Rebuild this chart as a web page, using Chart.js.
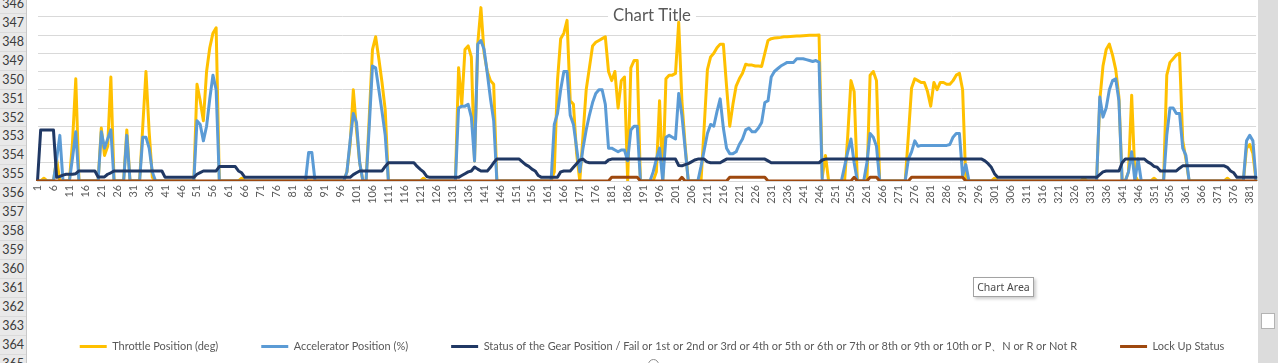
<!DOCTYPE html>
<html><head><meta charset="utf-8">
<script src="https://cdn.jsdelivr.net/npm/chart.js@4.4.1/dist/chart.umd.min.js"></script>
<style>
html,body{margin:0;padding:0;}
body{width:1278px;height:363px;overflow:hidden;position:relative;background:#fff;}
#rows{position:absolute;left:0;top:-5.2px;width:26px;background:#e9e9e9;border-right:1px solid #c8c8c8;}
#rows div{height:17.96px;border-bottom:1px solid #dadada;text-align:right;padding-right:2px;font:12.5px Lato,'Noto Sans',sans-serif;line-height:18px;color:#3b3b3b;}
#wrap{position:absolute;left:27px;top:-4px;width:1250px;height:367px;}
#strip{position:absolute;left:1258px;top:0;width:20px;height:363px;background:#dcdcdc;}
#handle{position:absolute;left:1261px;top:313px;width:12px;height:14px;background:#fff;border:1px solid #b3b3b3;}
#tip{position:absolute;left:973px;top:277px;width:59px;height:18px;background:#fff;border:1px solid #a3a3a3;box-shadow:2px 2px 3px rgba(0,0,0,0.2);font:10.5px 'Noto Sans',sans-serif;color:#4a4a4a;text-align:center;line-height:18px;}
#dot{position:absolute;left:648px;top:359px;width:9px;height:9px;border:1px solid #8c8c8c;border-radius:50%;background:#fff;}
</style></head>
<body>
<div id="rows">
<div>346</div><div>347</div><div>348</div><div>349</div><div>350</div><div>351</div><div>352</div><div>353</div><div>354</div><div>355</div>
<div>356</div><div>357</div><div>358</div><div>359</div><div>360</div><div>361</div><div>362</div><div>363</div><div>364</div><div>365</div>
</div>
<div id="wrap"><canvas id="c" width="1250" height="367"></canvas></div>
<div id="dot"></div>
<div id="strip"></div>
<div id="handle"></div>
<div id="tip">Chart Area</div>
<script>
// ---- data ----
const throttle = [
0,0,1.5,0,0,0,12,0,0,0,
0,22,56,0,0,0,0,0,0,0,
29,14,19,57,0,0,0,0,28,0,
0,0,0,30,60,27,2,0,0,0,
0,0,0,0,0,0,0,0,0,0,
53,44,33,60,73,81,84,0,0,0,
0,0,0,0,1.5,0,0,0,0,0,
0,0,0,0,0,0,0,0,0,0,
0,0,0,0,0,0,0,0,0,0,
0,0,0,0,0,0,0,5,20,50,
28,10,0,0,35,72,79,67,54,39,
0,0,0,0,0,0,0,0,0,0,
0,1.5,0,0,0,0,0,0,0,0,
0,0,62,42,72,74,68,11,75,95,
70,60,55,53,0,0,0,0,0,0,
0,0,0,0,0,0,0,0,0,0,
0,0,5,55,78,81,88,44,42,15,
0,25,50,62,74,76,77,78,79,60,
55,60,40,55,57,0,62,66,66,0,
0,0,0,0,5,44,0,56,58,58,
59,87,44,20,0,0,0,0,0,30,
61,68,70,73,75,75,52,30,42,52,
56,59,64,63.5,63.5,63,63,62.8,70,77,
78,78.3,78.5,78.7,79,79,79.2,79.3,79.4,79.5,
79.6,79.7,79.8,79.8,79.9,80,2,14,0,0,
0,0,0,0,25,55,49,0,0,0,
0,58,60,55,0,0,0,0,0,0,
0,0,0,25,51,56,55,54,54,49,
41,54,50,54,54,53,53,55,58,59,
50,0,0,0,0,0,0,0,0,0,
1.5,0,0,0,0,0,0,0,0,0,
0,0,0,0,0,0,0,0,0,0,
0,0,0,0,0,0,0,0,1.5,0,
0,0,0,44,63,72,75,69,61,46,
0,0,5,47,3,0,0,0,0,0,
1.5,0,0,0,58,65,67,69,70,22,
12,0,0,0,0,0,0,0,0,0,
0,0,0,1.5,0,0,0,0,0,18,
20,15,0
];
const accelerator = [
0,0,0,0,0,0,12,25,0,0,
0,13,27,0,0,0,0,0,0,0,
27,18,23,28,0,0,0,0,25,0,
0,0,0,24,24,18,5,0,0,0,
0,0,0,0,0,0,0,0,0,0,
33,31,22,30,45,58,50,0,0,0,
0,0,0,0,0,0,0,0,0,0,
0,0,0,0,0,0,0,0,0,0,
0,0,0,0,0,15.6,15.6,0,0,0,
0,0,0,0,0,0,0,5,22,37,
32,10,0,0,30,63,62,50,38,25,
0,0,0,0,0,0,0,0,0,0,
0,0,0,0,0,0,0,0,0,0,
0,0,40,41,41,42,35,11,75,77,
72,59,45,33,0,0,0,0,0,0,
0,0,0,0,0,0,0,0,0,0,
0,0,31,37,50,60,60,36,31,18,
5,18,28,36,43,48,50,50,42,18,
18,17,16,17,17,11,28,30,30,0,
0,0,0,5,12,18,0,24,25,24,
23,48,36,18,0,0,0,0,8,17,
26,31,30,38,45,29,18,15,15,16,
20,23,28,29,27,27,29,32,43,44,
57,60,61.5,63,64,65,65,65,67,67,
67,66.5,66,65.5,66,65,0,0,0,0,
0,0,0,8,16,23,10,0,0,0,
10,26,24,19,0,0,0,0,0,0,
0,0,0,12,16,22,19,19.5,19.5,19.5,
19.5,19.5,19.5,19.5,19.5,19.5,20,24,26,26,
3,9,0,0,0,0,0,0,0,0,
0,0,0,0,0,0,0,0,0,0,
0,0,0,0,0,0,0,0,0,0,
0,0,0,0,0,0,0,0,0,0,
0,0,0,46,35,40,50,55,56,44,
0,0,5,16,0,12,0,0,0,0,
0,0,0,0,25,40,40,37,37,18,
14,0,0,0,0,0,0,0,0,0,
0,0,0,0,0,0,0,0,0,22,
25,22,0
];
const gear = [
0,28,28,28,28,28,2,2.5,3.2,3.7,
3.7,3.7,4,5.5,5.5,5.5,5.5,5.5,5.5,2.2,
2.2,2.2,3.7,4.5,5.5,5.5,5.5,5.5,5.5,5.5,
5.5,5.5,5.5,5.5,5.5,5.5,5.5,5.5,5.5,5.5,
2,2,2,2,2,2,2,2,2,2,
3.7,4.6,5.5,5.5,5.5,5.5,5.5,7.9,7.9,7.9,
7.9,7.9,7.9,5.5,4.5,2,2,2,2,2,
2,2,2,2,2,2,2,2,2,2,
2,2,2,2,2,2,2,2,2,2,
2,2,2,2,2,2,2,2,2,3.5,
4.5,5.5,5.5,5.5,5.5,5.5,5.5,5.5,5.5,8,
10,10,10,10,10,10,10,10,10,8,
6.4,5,2.5,2,2,2,2,2,2,2,
2,2,2,3,4,5,5.5,7.7,6.5,5.5,
5.5,5.5,7.5,10,12,12,12,12,12,12,
12,12,10.5,9,8,6.5,5.5,3,2,2,
2,2,2,2,5,5.5,5.5,5.5,7.5,9.5,
11.5,12,10.5,10,10,10,10,10,10,11.5,
12,12,12,12,12,12,12,12,12,12,
12,12,12,12,12,12,12,12,12,12,
12,8.5,8.3,9,9.5,10.5,11.5,12,12,12,
10.5,10,10,10,10,11,12,12,12,12,
12,12,12,12,12,12,12,12,12,11,
10,10,10,10,10,10,10,10,10,10,
10,10,10,10,10,10,11.5,12,12,12,
12,12,12,12,12,12,12,12,12,12,
12,12,12,12,12,12,12,12,12,12,
12,12,12,12,12,12,12,12,12,12,
12,12,12,12,12,12,12,12,12,12,
12,12,12,12,12,12,12,11,9.5,7.5,
4,2,2,2,2,2,2,2,2,2,
2,2,2,2,2,2,2,2,2,2,
2,2,2,2,2,2,2,2,2,2,
2,2,2,3.5,5,5.5,5.5,5.5,5.5,5.5,
10,12,12,12,12,12,12,12,10.5,9.5,
8,7.5,5.5,5.5,5.5,5.5,5.5,5.5,7,8.3,
8.3,8.3,8.3,8.3,8.3,8.3,8.3,8.3,8.3,8.3,
8.3,8.3,8.3,7.5,5.5,4.5,2,2,2,2,
2,2,2
];
const lockUp = [
0,0,0,0,0,0,0,0,0,0,
0,0,0,0,0,0,0,0,0,0,
0,0,0,0,0,0,0,0,0,0,
0,0,0,0,0,0,0,0,0,0,
0,0,0,0,0,0,0,0,0,0,
0,0,0,0,0,0,0,0,0,0,
0,0,0,0,0,0,0,0,0,0,
0,0,0,0,0,0,0,0,0,0,
0,0,0,0,0,0,0,0,0,0,
0,0,0,0,0,0,0,0,0,0,
0,0,0,0,0,0,0,0,0,0,
0,0,0,0,0,0,0,0,0,0,
0,0,0,0,0,0,0,0,0,0,
0,0,0,0,0,0,0,0,0,0,
0,0,0,0,0,0,0,0,0,0,
0,0,0,0,0,0,0,0,0,0,
0,0,0,0,0,0,0,0,0,0,
0,0,0,0,0,0,0,0,0,0,
2,2,2,2,2,2,2,2,2,0,
0,0,0,0,0,0,0,0,0,0,
0,0,2,0,0,0,0,0,0,0,
0,0,0,0,0,0,0,2,2,2,
2,2,2,2,2,2,2,2,2,0,
0,0,0,0,0,0,0,0,0,0,
0,0,0,0,0,0,0,0,0,0,
0,0,0,0,0,0,2,0,0,0,
0,2,2,2,0,0,0,0,0,0,
0,0,0,0,2,2,2,2,2,2,
2,2,2,2,2,2,2,2,2,2,
2,0,0,0,0,0,0,0,0,0,
0,0,0,0,0,0,0,0,0,0,
0,0,0,0,0,0,0,0,0,0,
0,0,0,0,0,0,0,0,0,0,
0,0,0,0,0,0,0,0,0,0,
0,0,0,0,0,0,0,0,0,0,
0,0,0,0,0,0,0,0,0,0,
0,0,0,0,0,0,0,0,0,0,
0,0,0,0,0,0,0,0,0,0,
0,0,0
];
const categories = throttle.map((_, i) => String(i + 1));
const tickEvery = 5;
const seriesNames = [
  'Throttle Position (deg)',
  'Accelerator Position (%)',
  'Status of the Gear Position / Fail or 1st or 2nd or 3rd or 4th or 5th or 6th or 7th or 8th or 9th or 10th or P\u3001N or R or Not R',
  'Lock Up Status'
];
const titleText = 'Chart Title';

// ---- fonts sized to the reference text widths ----
const FONT = "Lato, 'Noto Sans', sans-serif";
const mctx = document.createElement('canvas').getContext('2d');
function tw(t, s) { mctx.font = s + 'px ' + FONT; return mctx.measureText(t).width; }
const legendFs = 100 * 886 / seriesNames.reduce((s, t) => s + tw(t, 100), 0);
const tickFs = 100 * 18.8 / tw('381', 100);
const titleFs = 100 * 78 / tw(titleText, 100);
const titleLH = titleFs * 1.2;
const padTop = 17 - titleLH / 2;
const xAxisH = 122.5 - legendFs / 2;
const padBottom = 6.5 - legendFs / 2;

const titleBg = {
  id: 'titleBg',
  beforeDatasetsDraw(chart) {
    const t = chart.titleBlock; if (!t) return;
    const ctx = chart.ctx;
    ctx.save();
    ctx.font = titleFs + 'px ' + FONT;
    const w = ctx.measureText(titleText).width;
    const cx = (t.left + t.right) / 2;
    const cy = t.top + padTop + titleLH / 2;
    ctx.fillStyle = '#fff';
    ctx.fillRect(cx - w / 2 - 5, cy - titleLH / 2, w + 10, titleLH);
    ctx.restore();
    t.draw();
  }
};

const colors = ['#FFC000', '#5B9BD5', '#203864', '#9E480E'];
const values = [throttle, accelerator, gear, lockUp];

new Chart(document.getElementById('c'), {
  type: 'line',
  data: {
    labels: categories,
    datasets: values.map((v, k) => ({
      label: seriesNames[k],
      data: v,
      borderColor: colors[k],
      backgroundColor: colors[k],
      borderWidth: 3,
      pointRadius: 0,
      tension: 0,
      fill: false,
      borderJoinStyle: 'round',
      borderCapStyle: 'round',
      order: 4 - k
    }))
  },
  options: {
    responsive: false,
    animation: false,
    devicePixelRatio: 1,
    events: [],
    layout: { padding: { left: 0, right: 0, top: 2.5, bottom: padBottom } },
    scales: {
      x: {
        type: 'category',
        grid: { display: false, drawTicks: false },
        border: { display: true, color: '#d9d9d9' },
        ticks: {
          autoSkip: false, maxRotation: 90, minRotation: 90, padding: 4,
          color: '#595959', font: { family: FONT, size: tickFs },
          callback(v, i) { return i % tickEvery === 0 ? this.getLabelForValue(v) : ''; }
        },
        afterFit(s) { s.height = xAxisH; }
      },
      y: {
        position: 'left',
        min: 0, max: 100,
        ticks: { display: false, stepSize: 10 },
        grid: { color: '#d9d9d9', lineWidth: 1, drawTicks: false },
        border: { display: false },
        afterFit(s) { s.width = 10.5; }
      },
      yRight: {
        position: 'right',
        min: 0, max: 100,
        ticks: { display: false },
        grid: { display: false, drawTicks: false },
        border: { display: false },
        afterFit(s) { s.width = 20.9; }
      }
    },
    plugins: {
      tooltip: { enabled: false },
      title: {
        display: true, text: titleText, color: '#595959',
        font: { family: FONT, size: titleFs, weight: 'normal' },
        padding: { top: padTop, bottom: -(titleLH + padTop) }
      },
      legend: {
        display: true, position: 'bottom',
        labels: {
          boxWidth: 27, boxHeight: 3, padding: 43, color: '#595959',
          font: { family: FONT, size: legendFs },
          sort: (a, b) => a.datasetIndex - b.datasetIndex,
          generateLabels(chart) {
            return Chart.defaults.plugins.legend.labels.generateLabels(chart).map(l => Object.assign({}, l, { lineWidth: 0 }));
          }
        }
      }
    }
  },
  plugins: [titleBg]
});
</script>
</body></html>
